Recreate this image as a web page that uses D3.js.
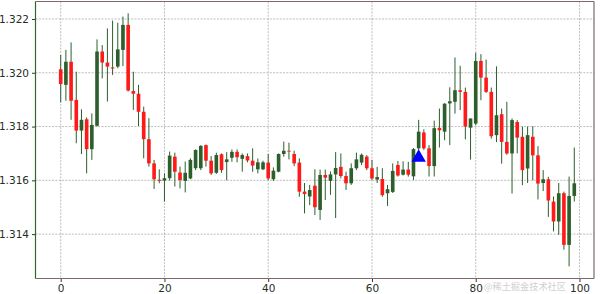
<!DOCTYPE html>
<html>
<head>
<meta charset="utf-8">
<script src="https://cdn.jsdelivr.net/npm/d3@7"></script>
<style>
  body { margin: 0; background: #fff; }
  svg { display: block; font-family: 'DejaVu Sans', sans-serif; }
</style>
</head>
<body>
<div id="chart"></div>
<script>
/* global d3 */

const opens = [
  1.32013, 1.31955, 1.32041, 1.31899, 1.31785, 1.31827, 1.31716, 1.31803, 1.32079, 1.32038,
  1.32020, 1.32023, 1.32085, 1.32178, 1.31932, 1.31922, 1.31855, 1.31753, 1.31663, 1.31602,
  1.31599, 1.31608, 1.31688, 1.31629, 1.31598, 1.31607, 1.31645, 1.31645, 1.31731, 1.31673,
  1.31628, 1.31697, 1.31668, 1.31684, 1.31706, 1.31680, 1.31690, 1.31673, 1.31641, 1.31641,
  1.31666, 1.31604, 1.31632, 1.31698, 1.31710, 1.31698, 1.31666, 1.31558, 1.31540, 1.31580,
  1.31490, 1.31620, 1.31598, 1.31622, 1.31650, 1.31616, 1.31589, 1.31645, 1.31666, 1.31688,
  1.31645, 1.31603, 1.31605, 1.31552, 1.31557, 1.31657, 1.31621, 1.31640, 1.31615, 1.31719,
  1.31778, 1.31719, 1.31653, 1.31795, 1.31781, 1.31886, 1.31892, 1.31935, 1.31929, 1.31796,
  1.31811, 1.32044, 1.31982, 1.31929, 1.31768, 1.31846, 1.31743, 1.31700, 1.31817, 1.31762,
  1.31644, 1.31762, 1.31693, 1.31590, 1.31604, 1.31521, 1.31447, 1.31552, 1.31360, 1.31542
]
const highs = [
  1.32066, 1.32085, 1.32113, 1.32004, 1.31864, 1.31834, 1.31849, 1.32124, 1.32103, 1.32165,
  1.32194, 1.32186, 1.32209, 1.32221, 1.32004, 1.31955, 1.31874, 1.31831, 1.31676, 1.31641,
  1.31626, 1.31707, 1.31703, 1.31651, 1.31670, 1.31682, 1.31715, 1.31731, 1.31733, 1.31690,
  1.31703, 1.31700, 1.31705, 1.31715, 1.31715, 1.31700, 1.31700, 1.31719, 1.31681, 1.31673,
  1.31698, 1.31648, 1.31700, 1.31744, 1.31740, 1.31710, 1.31682, 1.31590, 1.31583, 1.31641,
  1.31640, 1.31640, 1.31633, 1.31705, 1.31700, 1.31632, 1.31663, 1.31703, 1.31700, 1.31694,
  1.31676, 1.31650, 1.31645, 1.31583, 1.31663, 1.31672, 1.31671, 1.31669, 1.31720, 1.31825,
  1.31790, 1.31731, 1.31822, 1.31867, 1.31887, 1.31946, 1.32057, 1.32026, 1.31945, 1.31830,
  1.32074, 1.32069, 1.32049, 1.31945, 1.32024, 1.31867, 1.31892, 1.31830, 1.31824, 1.31800,
  1.31800, 1.31801, 1.31727, 1.31638, 1.31613, 1.31540, 1.31590, 1.31558, 1.31614, 1.31722
]
const lows = [
  1.31890, 1.31896, 1.31825, 1.31738, 1.31698, 1.31626, 1.31676, 1.31800, 1.31979, 1.31893,
  1.31992, 1.32017, 1.32025, 1.31930, 1.31862, 1.31802, 1.31682, 1.31651, 1.31568, 1.31589,
  1.31521, 1.31599, 1.31577, 1.31570, 1.31555, 1.31604, 1.31638, 1.31638, 1.31651, 1.31620,
  1.31624, 1.31628, 1.31600, 1.31669, 1.31667, 1.31632, 1.31667, 1.31632, 1.31626, 1.31638,
  1.31601, 1.31598, 1.31630, 1.31688, 1.31678, 1.31653, 1.31539, 1.31477, 1.31508, 1.31471,
  1.31453, 1.31527, 1.31546, 1.31460, 1.31607, 1.31564, 1.31583, 1.31638, 1.31657, 1.31638,
  1.31601, 1.31590, 1.31539, 1.31505, 1.31553, 1.31614, 1.31618, 1.31614, 1.31601, 1.31713,
  1.31713, 1.31614, 1.31614, 1.31722, 1.31749, 1.31731, 1.31848, 1.31861, 1.31752, 1.31677,
  1.31805, 1.31898, 1.31925, 1.31755, 1.31742, 1.31662, 1.31695, 1.31551, 1.31700, 1.31582,
  1.31590, 1.31600, 1.31529, 1.31560, 1.31464, 1.31410, 1.31397, 1.31342, 1.31280, 1.31521
]
const closes = [
  1.31958, 1.32041, 1.31896, 1.31785, 1.31825, 1.31716, 1.31806, 1.32079, 1.32038, 1.32023,
  1.32016, 1.32087, 1.32178, 1.31934, 1.31922, 1.31855, 1.31753, 1.31663, 1.31604, 1.31598,
  1.31608, 1.31692, 1.31632, 1.31601, 1.31628, 1.31676, 1.31713, 1.31728, 1.31673, 1.31626,
  1.31694, 1.31638, 1.31678, 1.31706, 1.31686, 1.31694, 1.31674, 1.31655, 1.31667, 1.31667,
  1.31607, 1.31636, 1.31698, 1.31710, 1.31707, 1.31663, 1.31558, 1.31549, 1.31564, 1.31500,
  1.31620, 1.31610, 1.31622, 1.31646, 1.31616, 1.31589, 1.31645, 1.31678, 1.31695, 1.31645,
  1.31607, 1.31612, 1.31545, 1.31567, 1.31635, 1.31618, 1.31640, 1.31621, 1.31716, 1.31781,
  1.31719, 1.31653, 1.31794, 1.31786, 1.31885, 1.31894, 1.31935, 1.31929, 1.31800, 1.31830,
  1.32044, 1.31982, 1.31929, 1.31764, 1.31842, 1.31743, 1.31700, 1.31824, 1.31759, 1.31638,
  1.31768, 1.31693, 1.31588, 1.31604, 1.31525, 1.31447, 1.31552, 1.31360, 1.31542, 1.31589
]

// buy signal marker
const signalX = [69]
const signalY = [1.31688]

const xTicks = [0, 20, 40, 60, 80, 100]
const yTicks = [1.314, 1.316, 1.318, 1.320, 1.322]

const WIDTH = 600
const HEIGHT = 294
const LEFT = 35.5
const RIGHT = 594
const TOP = 1.5
const BOTTOM = 278.5

const UP_COLOR = '#2c5f2c'
const DOWN_COLOR = '#ff1a1a'

const candles = opens.map((o, i) => ({
  i, open: o, high: highs[i], low: lows[i], close: closes[i]
}))

const svg = d3.select('#chart')
  .append('svg')
  .attr('width', WIDTH)
  .attr('height', HEIGHT)

const x = d3.scaleLinear().domain([-4.86, 102.8]).range([LEFT, RIGHT])
const y = d3.scaleLinear().domain([1.31235, 1.32265]).range([BOTTOM, TOP])

// grid
svg.append('g')
  .selectAll('line')
  .data(yTicks)
  .join('line')
  .attr('x1', LEFT)
  .attr('x2', RIGHT)
  .attr('y1', (d) => y(d))
  .attr('y2', (d) => y(d))
  .style('stroke', '#b4b4b4')
  .style('stroke-width', 0.9)
  .style('stroke-dasharray', '2,1.3')

svg.append('g')
  .selectAll('line')
  .data(xTicks)
  .join('line')
  .attr('x1', (d) => x(d))
  .attr('x2', (d) => x(d))
  .attr('y1', TOP)
  .attr('y2', BOTTOM)
  .style('stroke', '#b4b4b4')
  .style('stroke-width', 0.9)
  .style('stroke-dasharray', '2,1.3')

// candles
const bodyW = x(0.35) - x(0)
const candle = svg.append('g')
  .selectAll('g')
  .data(candles)
  .join('g')

candle.append('line')
  .attr('x1', (d) => x(d.i))
  .attr('x2', (d) => x(d.i))
  .attr('y1', (d) => y(d.high))
  .attr('y2', (d) => y(d.low))
  .style('stroke', UP_COLOR)
  .style('stroke-width', 1)

candle.append('rect')
  .attr('x', (d) => x(d.i) - bodyW)
  .attr('width', bodyW * 2)
  .attr('y', (d) => y(Math.max(d.open, d.close)))
  .attr('height', (d) => Math.max(0.8, Math.abs(y(d.open) - y(d.close))))
  .style('fill', (d) => (d.close >= d.open ? UP_COLOR : DOWN_COLOR))

// signal triangle
const tri = d3.symbol().type(d3.symbolTriangle).size(90)
svg.append('g')
  .selectAll('path')
  .data(signalX)
  .join('path')
  .attr('d', tri)
  .attr('transform', (d, k) => `translate(${x(d)},${y(signalY[k]) + 1})`)
  .style('fill', '#0000ff')

// axes
const xAxis = svg.append('g')
  .attr('transform', `translate(0,${BOTTOM})`)
  .call(d3.axisBottom(x).tickValues(xTicks).tickSize(3.5).tickPadding(3).tickFormat(d3.format('d')))
const yAxis = svg.append('g')
  .attr('transform', `translate(${LEFT},0)`)
  .call(d3.axisLeft(y).tickValues(yTicks).tickSize(3.5).tickPadding(3).tickFormat(d3.format('.3f')))

xAxis.select('.domain').remove()
yAxis.select('.domain').remove()
xAxis.selectAll('line').style('stroke', '#333')
yAxis.selectAll('line').style('stroke', '#333')
svg.selectAll('.tick text')
  .style('font-size', '10.5px')
  .style('font-family', "'DejaVu Sans', sans-serif")
  .style('fill', '#1f2f1f')

// frame
svg.append('line')
  .attr('x1', LEFT).attr('x2', RIGHT).attr('y1', TOP).attr('y2', TOP)
  .style('stroke', '#7a6a6a').style('stroke-width', 1.2)
svg.append('line')
  .attr('x1', LEFT).attr('x2', RIGHT).attr('y1', BOTTOM).attr('y2', BOTTOM)
  .style('stroke', '#7a6a6a').style('stroke-width', 1.2)
svg.append('line')
  .attr('x1', RIGHT).attr('x2', RIGHT).attr('y1', TOP).attr('y2', BOTTOM)
  .style('stroke', '#7a6a6a').style('stroke-width', 1.2)
svg.append('line')
  .attr('x1', LEFT).attr('x2', LEFT).attr('y1', TOP).attr('y2', BOTTOM)
  .style('stroke', '#2c6a2c').style('stroke-width', 1.2)

// watermark, kept clear of the 80 and 100 tick labels
svg.append('text')
  .attr('x', 566)
  .attr('y', 290)
  .attr('text-anchor', 'end')
  .style('font-family', "'Noto Sans CJK SC', sans-serif")
  .style('font-size', '9.2px')
  .style('fill', '#d0d0d0')
  .text('@稀土掘金技术社区')
</script>
</body>
</html>
